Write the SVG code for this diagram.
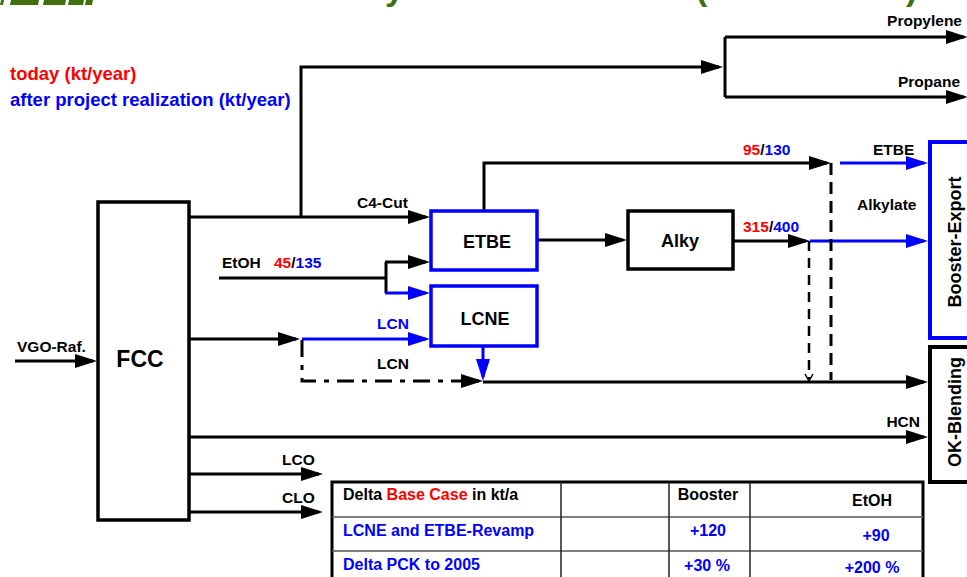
<svg xmlns="http://www.w3.org/2000/svg" width="967" height="577" viewBox="0 0 967 577">
<defs>
<style>
text{font-family:"Liberation Sans",Arial,sans-serif;font-weight:bold;fill:#000}
.lbl{font-size:15.5px}
.box{font-size:18px;text-anchor:middle}
.red{fill:#ff0000}
.blu{fill:#0000ff}
.ln{fill:none;stroke:#000;stroke-width:3}
.lb{fill:none;stroke:#0000ff;stroke-width:3}
.tb{font-size:16px}
</style>
<marker id="ah" markerUnits="userSpaceOnUse" markerWidth="22" markerHeight="14" refX="18" refY="7" orient="auto"><path d="M0,0 L22,7 L0,14 z" fill="#000"/></marker>
<marker id="ahb" markerUnits="userSpaceOnUse" markerWidth="22" markerHeight="14" refX="18" refY="7" orient="auto"><path d="M0,0 L22,7 L0,14 z" fill="#0000ff"/></marker>
</defs>
<rect width="967" height="577" fill="#fff"/>

<g id="title-fragment" fill="#3f6f0f">
<polygon points="1,0 4,0 3,5 0,5"/>
<polygon points="11,0 39,0 38,5 10,5"/>
<polygon points="44,0 66,0 65,5 43,5"/>
<polygon points="69,0 84,0 83,5 68,5"/>
<polygon points="86,0 93,0 92,5 85,5"/>
<text x="385" y="0" style="font-size:34px;fill:#3f6f0f">y</text>
<text x="696" y="0" style="font-size:34px;fill:#3f6f0f">(</text>
<text x="906" y="0" style="font-size:34px;fill:#3f6f0f">)</text>
</g>

<g id="legend">
<text x="10" y="80" class="red" style="font-size:18.5px">today (kt/year)</text>
<text x="10" y="106" class="blu" style="font-size:18.5px">after project realization (kt/year)</text>
</g>

<g id="connectors">
<path class="ln" d="M15,361 H93" marker-end="url(#ah)"/>
<path class="ln" d="M190,217 H426" marker-end="url(#ah)"/>
<path class="ln" d="M301,217 V67 H719" marker-end="url(#ah)"/>
<path class="ln" d="M725,37 V97"/>
<path class="ln" d="M725,37 H964" marker-end="url(#ah)"/>
<path class="ln" d="M725,97 H964" marker-end="url(#ah)"/>
<path class="ln" d="M219,278 H386"/>
<path class="ln" d="M386,262 V293"/>
<path class="ln" d="M385,262 H426" marker-end="url(#ah)"/>
<path class="lb" d="M385,293 H426" marker-end="url(#ahb)"/>
<path class="ln" d="M484,210 V163 H827" marker-end="url(#ah)"/>
<path class="lb" d="M840,163 H924" marker-end="url(#ahb)"/>
<path class="ln" d="M537,240 H623" marker-end="url(#ah)"/>
<path class="ln" d="M733,241 H806" marker-end="url(#ah)"/>
<path class="lb" d="M810,241 H924" marker-end="url(#ahb)"/>
<path class="ln" d="M831,163 V380" stroke-dasharray="12 7"/>
<path d="M809,241 V379" fill="none" stroke="#000" stroke-width="2.5" stroke-dasharray="10 7"/>
<polyline points="805,374 809,381 813,374" fill="none" stroke="#000" stroke-width="1.5"/>
<path class="ln" d="M190,339 H296" marker-end="url(#ah)"/>
<path class="lb" d="M302,339 H426" marker-end="url(#ahb)"/>
<path class="ln" d="M302,340 V381 H479" stroke-dasharray="17 8 5 8" marker-end="url(#ah)"/>
<path class="lb" d="M483,347 V377" marker-end="url(#ahb)"/>
<path class="ln" d="M483,382 H924" marker-end="url(#ah)"/>
<path class="ln" d="M190,437 H924" marker-end="url(#ah)"/>
<path class="ln" d="M190,474 H319" marker-end="url(#ah)"/>
<path class="ln" d="M190,512 H319" marker-end="url(#ah)"/>
</g>

<g id="connector-labels" class="lbl">
<text x="17" y="352" class="lbl">VGO-Raf.</text>
<text x="962" y="26" class="lbl" text-anchor="end">Propylene</text>
<text x="960" y="87" class="lbl" text-anchor="end">Propane</text>
<text x="357" y="208" class="lbl">C4-Cut</text>
<text x="222" y="268" class="lbl">EtOH</text>
<text x="274" y="268" class="lbl"><tspan class="red">45</tspan>/<tspan class="blu">135</tspan></text>
<text x="743" y="155" class="lbl"><tspan class="red">95</tspan>/<tspan class="blu">130</tspan></text>
<text x="873" y="155" class="lbl">ETBE</text>
<text x="857" y="210" class="lbl">Alkylate</text>
<text x="743" y="232" class="lbl"><tspan class="red">315</tspan>/<tspan class="blu">400</tspan></text>
<text x="377" y="329" class="lbl blu">LCN</text>
<text x="377" y="369" class="lbl">LCN</text>
<text x="920" y="427" class="lbl" text-anchor="end">HCN</text>
<text x="282" y="465" class="lbl">LCO</text>
<text x="282" y="503" class="lbl">CLO</text>
</g>

<g id="FCC">
<rect x="98" y="202" width="91" height="318" fill="#fff" stroke="#000" stroke-width="3.5"/>
<text x="140" y="367" class="box" style="font-size:23px">FCC</text>
</g>
<g id="ETBE">
<rect x="431" y="211" width="106" height="59" fill="#fff" stroke="#0000ff" stroke-width="3.5"/>
<text x="487" y="248" class="box">ETBE</text>
</g>
<g id="LCNE">
<rect x="431" y="286" width="106" height="60" fill="#fff" stroke="#0000ff" stroke-width="3.5"/>
<text x="485" y="325" class="box">LCNE</text>
</g>
<g id="Alky">
<rect x="628" y="211" width="105" height="58" fill="#fff" stroke="#000" stroke-width="3.5"/>
<text x="680" y="247" class="box">Alky</text>
</g>
<g id="Booster-Export">
<rect x="930" y="142" width="60" height="196" fill="#fff" stroke="#0000ff" stroke-width="4"/>
<text transform="translate(961,242) rotate(-90)" class="box">Booster-Export</text>
</g>
<g id="OK-Blending">
<rect x="930" y="347" width="60" height="135" fill="#fff" stroke="#000" stroke-width="4"/>
<text transform="translate(961,412) rotate(-90)" class="box">OK-Blending</text>
</g>

<g id="table">
<rect x="332" y="482" width="591" height="110" fill="#fff" stroke="#000" stroke-width="3"/>
<path d="M332,517 H923 M332,551 H923" stroke="#555" stroke-width="1.5"/>
<path d="M561,482 V577 M669,482 V577 M750,482 V577" stroke="#222" stroke-width="1.5"/>
<text x="343" y="500" class="tb">Delta <tspan class="red">Base Case</tspan> in kt/a</text>
<text x="708" y="500" class="tb" text-anchor="middle">Booster</text>
<text x="872" y="506" class="tb" text-anchor="middle">EtOH</text>
<text x="343" y="536" class="tb blu">LCNE and ETBE-Revamp</text>
<text x="708" y="536" class="tb blu" text-anchor="middle">+120</text>
<text x="876" y="541" class="tb blu" text-anchor="middle">+90</text>
<text x="343" y="570" class="tb blu">Delta PCK to 2005</text>
<text x="707" y="571" class="tb blu" text-anchor="middle">+30 %</text>
<text x="872" y="573" class="tb blu" text-anchor="middle">+200 %</text>
</g>
</svg>
